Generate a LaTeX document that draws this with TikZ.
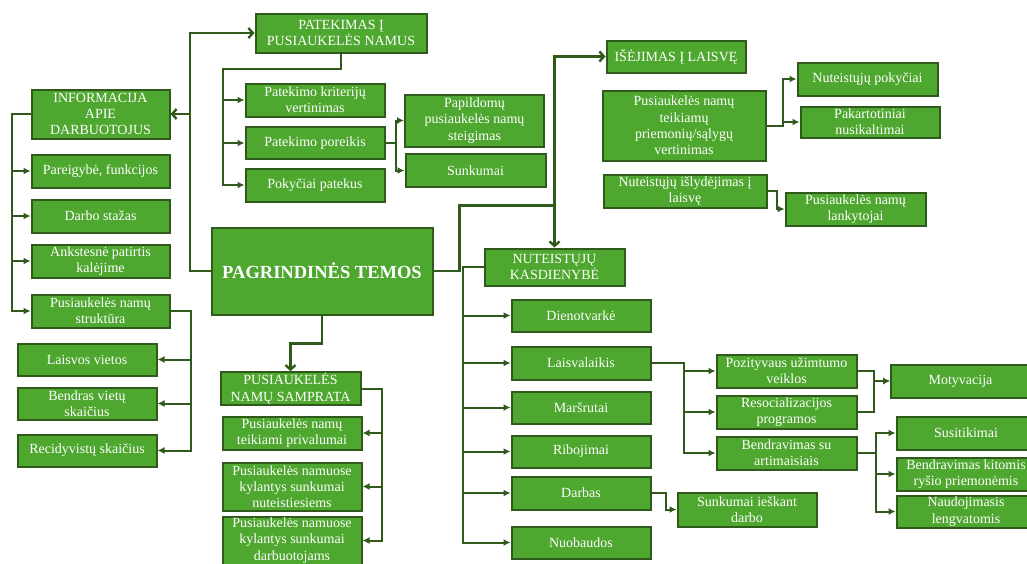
\documentclass[tikz,border=0pt]{standalone}
\usepackage{fontspec}
\setmainfont{Liberation Serif}
\usetikzlibrary{arrows.meta}
\definecolor{boxgreen}{HTML}{4EA72E}
\definecolor{darkgreen}{HTML}{2F5A1C}

\begin{document}
\begin{tikzpicture}[x=1pt,y=-1pt]
  \tikzstyle{every node}=[font=\fontsize{14}{16.3}\selectfont]
  \tikzstyle{topic}=[draw=darkgreen, line width=2pt, fill=boxgreen, text=white, align=center, inner sep=1pt, minimum width=139pt, minimum height=33pt]
  \tikzstyle{branch}=[draw=darkgreen, line width=2pt, -{Latex[length=7pt,width=7pt]}]
  \tikzstyle{mainlink}=[draw=darkgreen, line width=2.4pt, -{Straight Barb[length=4.5pt,width=10pt]}]
  \useasboundingbox (0,0) rectangle (1027,563);

  % centre
  \node[topic, minimum width=221pt, minimum height=87pt, font=\fontsize{18.5}{22}\selectfont\bfseries] (core) at (322,271) {PAGRINDINĖS TEMOS};

  % entry
  \node[topic, minimum width=171pt, minimum height=39pt] (entry) at (341,33) {PATEKIMAS Į\\PUSIAUKELĖS NAMUS};
  \node[topic] (criteria) at (315,100) {Patekimo kriterijų\\vertinimas};
  \node[topic, minimum height=32pt] (need) at (315,143) {Patekimo poreikis};
  \node[topic] (changes) at (315,185) {Pokyčiai patekus};
  \node[topic, minimum height=52pt] (extra) at (474.5,120.5) {Papildomų\\pusiaukelės namų\\steigimas};
  \node[topic, minimum width=140pt] (hard) at (475.5,170.5) {Sunkumai};

  % staff
  \node[topic, minimum width=138pt, minimum height=49pt] (staff) at (100.5,114) {INFORMACIJA\\APIE\\DARBUOTOJUS};
  \node[topic, minimum width=138pt] (duties) at (100.5,171) {Pareigybė, funkcijos};
  \node[topic, minimum width=138pt] (tenure) at (100.5,216) {Darbo stažas};
  \node[topic, minimum width=138pt] (prison) at (100.5,261) {Ankstesnė patirtis\\kalėjime};
  \node[topic, minimum width=138pt] (structure) at (100.5,311) {Pusiaukelės namų\\struktūra};
  \node[topic, minimum height=32pt] (free) at (87,359.5) {Laisvos vietos};
  \node[topic, minimum height=32pt] (total) at (87,403.5) {Bendras vietų\\skaičius};
  \node[topic, minimum height=32pt] (recid) at (87,450.5) {Recidyvistų skaičius};

  % concept
  \node[topic, minimum width=140pt, minimum height=32pt] (concept) at (290.5,388.5) {PUSIAUKELĖS\\NAMŲ SAMPRATA};
  \node[topic] (benefits) at (292,433) {Pusiaukelės namų\\teikiami privalumai};
  \node[topic, minimum height=48pt] (hardinmates) at (292,486.5) {Pusiaukelės namuose\\kylantys sunkumai\\nuteistiesiems};
  \node[topic, minimum height=48pt] (hardstaff) at (292,540.5) {Pusiaukelės namuose\\kylantys sunkumai\\darbuotojams};

  % exit
  \node[topic, minimum height=32pt] (exit) at (676,56.5) {IŠĖJIMAS Į LAISVĘ};
  \node[topic, minimum width=163pt, minimum height=70pt] (means) at (684,125.5) {Pusiaukelės namų\\teikiamų\\priemonių/sąlygų\\vertinimas};
  \node[topic, minimum width=140pt] (progress) at (867.5,79) {Nuteistųjų pokyčiai};
  \node[topic, minimum height=31pt] (reoffend) at (870,122) {Pakartotiniai\\nusikaltimai};
  \node[topic, minimum width=163pt] (release) at (685,191) {Nuteistųjų išlydėjimas į\\laisvę};
  \node[topic, minimum width=140pt] (visitors) at (855.5,209) {Pusiaukelės namų\\lankytojai};

  % daily life
  \node[topic, minimum width=140pt, minimum height=37pt] (daily) at (554.5,267) {NUTEISTŲJŲ\\KASDIENYBĖ};
  \node[topic, minimum height=32pt] (routine) at (581,315.5) {Dienotvarkė};
  \node[topic] (leisure) at (581,363) {Laisvalaikis};
  \node[topic, minimum height=32pt] (routes) at (581,407.5) {Maršrutai};
  \node[topic, minimum height=32pt] (limits) at (581,451.5) {Ribojimai};
  \node[topic] (work) at (581,493) {Darbas};
  \node[topic, minimum height=32pt] (penalty) at (581,542.5) {Nuobaudos};
  \node[topic, minimum width=140pt] (positive) at (786.5,371) {Pozityvaus užimtumo\\veiklos};
  \node[topic, minimum width=140pt] (resoc) at (786.5,412) {Resocializacijos\\programos};
  \node[topic, minimum width=140pt] (family) at (786.5,453) {Bendravimas su\\artimaisiais};
  \node[topic, minimum height=34pt] (jobhunt) at (747,509.5) {Sunkumai ieškant\\darbo};
  \node[topic] (motiv) at (960.5,381) {Motyvacija};
  \node[topic] (meetings) at (966,433) {Susitikimai};
  \node[topic] (othermeans) at (966,474) {Bendravimas kitomis\\ryšio priemonėmis};
  \node[topic, minimum height=32pt] (usage) at (966,511.5) {Naudojimasis\\lengvatomis};

  % left of centre
  \coordinate (lj) at (190,271);
  \draw[mainlink] (core.west) -- (lj) |- (entry.west);
  \draw[mainlink] (lj |- staff.east) -- (staff.east);

  \coordinate (ej) at (223,69);
  \draw[branch] (entry.south) |- (ej) |- (changes.west);
  \draw[branch] (ej |- criteria.west) -- (criteria.west);
  \draw[branch] (ej |- need.west) -- (need.west);
  \draw[branch] (need.east) -- ++(10,0) |- (extra.west);
  \draw[branch] (need.east) -- ++(10,0) |- (hard.west);

  \coordinate (sj) at (12,114);
  \draw[branch] (staff.west) -- (sj) |- (structure.west);
  \draw[branch] (sj |- duties.west) -- (duties.west);
  \draw[branch] (sj |- tenure.west) -- (tenure.west);
  \draw[branch] (sj |- prison.west) -- (prison.west);

  \coordinate (rj) at (191,311);
  \draw[branch] (structure.east) -- (rj) |- (recid.east);
  \draw[branch] (rj |- free.east) -- (free.east);
  \draw[branch] (rj |- total.east) -- (total.east);

  % below centre
  \draw[mainlink] (core.south) -- ++(0,28) -| (concept.north);
  \coordinate (cj) at (382,388.5);
  \draw[branch] (concept.east) -- (cj) |- (hardstaff.east);
  \draw[branch] (cj |- benefits.east) -- (benefits.east);
  \draw[branch] (cj |- hardinmates.east) -- (hardinmates.east);

  % right of centre
  \coordinate (dj) at ([yshift=42pt]daily.north);
  \draw[draw=darkgreen, line width=2.4pt] (core.east) -- ++(26,0) |- (dj);
  \draw[mainlink] (dj) |- (exit.west);
  \draw[mainlink] (dj) -- (daily.north);

  \draw[branch] (means.east) -- ++(16,0) |- (progress.west);
  \draw[branch] (means.east) -- ++(16,0) |- (reoffend.west);
  \draw[branch] (release.east) -- ++(9,0) |- (visitors.west);

  \coordinate (kj) at (463,267);
  \draw[branch] (daily.west) -- (kj) |- (penalty.west);
  \draw[branch] (kj |- routine.west) -- (routine.west);
  \draw[branch] (kj |- leisure.west) -- (leisure.west);
  \draw[branch] (kj |- routes.west) -- (routes.west);
  \draw[branch] (kj |- limits.west) -- (limits.west);
  \draw[branch] (kj |- work.west) -- (work.west);

  \coordinate (fj) at (684,363);
  \draw[branch] (leisure.east) -- (fj) |- (family.west);
  \draw[branch] (fj |- positive.west) -- (positive.west);
  \draw[branch] (fj |- resoc.west) -- (resoc.west);
  \draw[branch] (work.east) -- ++(14,0) |- (jobhunt.west);

  \draw[branch] (positive.east) -- ++(16,0) |- (motiv.west);
  \draw[branch] (resoc.east) -- ++(16,0) |- (motiv.west);

  \coordinate (mj) at (876,453);
  \draw[branch] (family.east) -- (mj) |- (meetings.west);
  \draw[branch] (mj) |- (usage.west);
  \draw[branch] (mj |- othermeans.west) -- (othermeans.west);
\end{tikzpicture}
\end{document}
